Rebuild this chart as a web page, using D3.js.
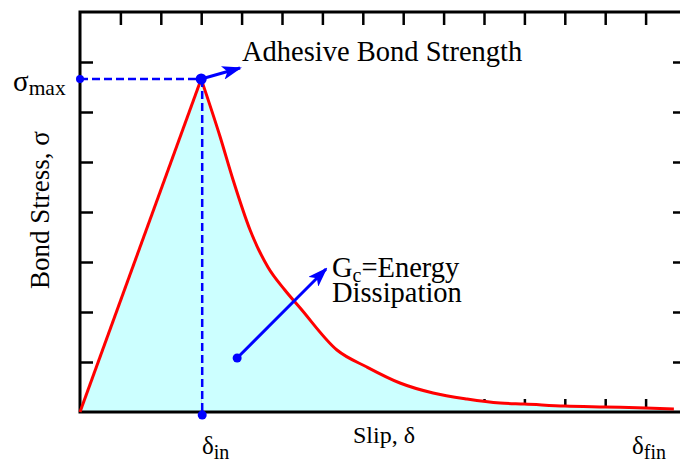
<!DOCTYPE html>
<html>
<head>
<meta charset="utf-8">
<script src="https://cdn.jsdelivr.net/npm/d3@7/dist/d3.min.js"></script>
<style>
  html, body { margin: 0; padding: 0; background: #fff; }
  svg { display: block; }
</style>
</head>
<body>
<svg id="chart" width="680" height="462"></svg>
<script>
// ---- data (slip and stress in tick units) ----
const slip   = [0, 3.0, 3.47, 3.79, 4.21, 4.65, 5.07, 5.45, 6.36, 7.10, 7.92, 8.74, 9.58, 10.4, 11.0, 12.0, 13.0, 14.0, 14.7];
const stress = [0, 6.66, 5.5, 4.64, 3.64, 2.9, 2.44, 2.08, 1.24, 0.9, 0.58, 0.38, 0.26, 0.18, 0.16, 0.12, 0.10, 0.08, 0.06];
const xTicks = [1,2,3,4,5,6,7,8,9,10,11,12,13,14];
const yTicks = [1,2,3,4,5,6,7];
const peakIndex = 1;
const labels = {
  y: "Bond Stress, σ",
  x: "Slip, δ",
  strength: "Adhesive Bond Strength",
  energy1: "=Energy",
  energy2: "Dissipation"
};

const FONT = "Liberation Serif";
const svg = d3.select("#chart");
const x = d3.scaleLinear().domain([0, 15]).range([80, 686]);
const y = d3.scaleLinear().domain([0, 8]).range([412, 12]);

const data = slip.map((s, i) => ({ s, t: stress[i] }));
const rise = data.slice(0, peakIndex + 1);
const decay = data.slice(peakIndex);

// ticks (inward) on all four sides
const tick = 13;
svg.append("g").attr("transform", `translate(0,${y(0)})`)
  .call(d3.axisBottom(x).tickValues(xTicks).tickSize(-tick).tickFormat(""));
svg.append("g").attr("transform", `translate(0,${y(8)})`)
  .call(d3.axisTop(x).tickValues(xTicks).tickSize(-tick).tickFormat(""));
svg.append("g").attr("transform", `translate(${x(0)},0)`)
  .call(d3.axisLeft(y).tickValues(yTicks).tickSize(-tick).tickFormat(""));
svg.append("g").attr("transform", `translate(${x(15)},0)`)
  .call(d3.axisRight(y).tickValues(yTicks).tickSize(-tick).tickFormat(""));
svg.selectAll(".domain").remove();
svg.selectAll(".tick line").attr("stroke", "#000").attr("stroke-width", 2.5);

// area (rise linear, decay smooth)
const areaLin = d3.area().x(d => x(d.s)).y0(y(0)).y1(d => y(d.t)).curve(d3.curveLinear);
const areaDec = d3.area().x(d => x(d.s)).y0(y(0)).y1(d => y(d.t)).curve(d3.curveMonotoneX);
svg.append("path").datum(rise).attr("d", areaLin).attr("fill", "#ccffff");
svg.append("path").datum(decay).attr("d", areaDec).attr("fill", "#ccffff")
  .attr("stroke", "#ccffff").attr("stroke-width", 0.5);

// frame
svg.append("rect")
  .attr("x", x(0)).attr("y", y(8))
  .attr("width", x(15) - x(0)).attr("height", y(0) - y(8))
  .attr("fill", "none").attr("stroke", "#000").attr("stroke-width", 3);

// curve
svg.append("path").datum(rise)
  .attr("d", d3.line().x(d => x(d.s)).y(d => y(d.t)).curve(d3.curveLinear))
  .attr("fill", "none").attr("stroke", "#ff0000").attr("stroke-width", 3);
svg.append("path").datum(decay)
  .attr("d", d3.line().x(d => x(d.s)).y(d => y(d.t)).curve(d3.curveMonotoneX))
  .attr("fill", "none").attr("stroke", "#ff0000").attr("stroke-width", 3);

// arrow marker
const defs = svg.append("defs");
defs.append("marker").attr("id", "arr")
  .attr("viewBox", "0 0 20 14").attr("refX", 18).attr("refY", 7)
  .attr("markerWidth", 20).attr("markerHeight", 14)
  .attr("markerUnits", "userSpaceOnUse").attr("orient", "auto")
  .append("path").attr("d", "M0,0 L20,7 L0,14 L5,7 Z").attr("fill", "#0000ff");

const blue = "#0000ff";
const peak = data[peakIndex];

// dashed guides
svg.append("line")
  .attr("x1", x(0)).attr("y1", y(peak.t)).attr("x2", x(peak.s)).attr("y2", y(peak.t))
  .attr("stroke", blue).attr("stroke-width", 2.5).attr("stroke-dasharray", "8,4");
svg.append("line")
  .attr("x1", x(peak.s)+1).attr("y1", y(peak.t)).attr("x2", x(peak.s)+1).attr("y2", y(0)+3)
  .attr("stroke", blue).attr("stroke-width", 2.5).attr("stroke-dasharray", "8,4");

// dots
[[x(0), y(peak.t), 4], [x(peak.s), y(peak.t), 5.5], [x(peak.s)+1, y(0)+3, 4.5]].forEach(p => {
  svg.append("circle").attr("cx", p[0]).attr("cy", p[1]).attr("r", p[2]).attr("fill", blue);
});

// arrows
svg.append("line")
  .attr("x1", x(peak.s)).attr("y1", y(peak.t)).attr("x2", x(3.96)).attr("y2", y(6.88))
  .attr("stroke", blue).attr("stroke-width", 3).attr("marker-end", "url(#arr)");
svg.append("line")
  .attr("x1", x(3.89)).attr("y1", y(1.08)).attr("x2", x(6.09)).attr("y2", y(2.86))
  .attr("stroke", blue).attr("stroke-width", 3).attr("marker-end", "url(#arr)");
svg.append("circle").attr("cx", x(3.89)).attr("cy", y(1.08)).attr("r", 4.5).attr("fill", blue);

// texts
const T = () => svg.append("text").attr("font-family", FONT).attr("fill", "#000");

T().attr("x", 242).attr("y", 61).attr("font-size", 28.5).text(labels.strength);

const g1 = T().attr("x", 332).attr("y", 277).attr("font-size", 28.5);
g1.append("tspan").text("G");
g1.append("tspan").attr("font-size", 20).attr("dy", 5).text("c");
g1.append("tspan").attr("dy", -5).text(labels.energy1);
T().attr("x", 332).attr("y", 302).attr("font-size", 28.5).text(labels.energy2);

const sm = T().attr("x", 13).attr("y", 91).attr("font-size", 29);
sm.append("tspan").text("σ");
sm.append("tspan").attr("font-size", 21.5).attr("dy", 4).text("max");

const di = T().attr("x", 202).attr("y", 454).attr("font-size", 25);
di.append("tspan").text("δ");
di.append("tspan").attr("font-size", 20).attr("dy", 5).text("in");

const df = T().attr("x", 632).attr("y", 454).attr("font-size", 25);
df.append("tspan").text("δ");
df.append("tspan").attr("font-size", 20).attr("dy", 5).text("fin");

T().attr("x", 353).attr("y", 443).attr("font-size", 24).text(labels.x);

T().attr("transform", "translate(49,210) rotate(-90)")
  .attr("text-anchor", "middle").attr("font-size", 27).text(labels.y);
</script>
</body>
</html>
